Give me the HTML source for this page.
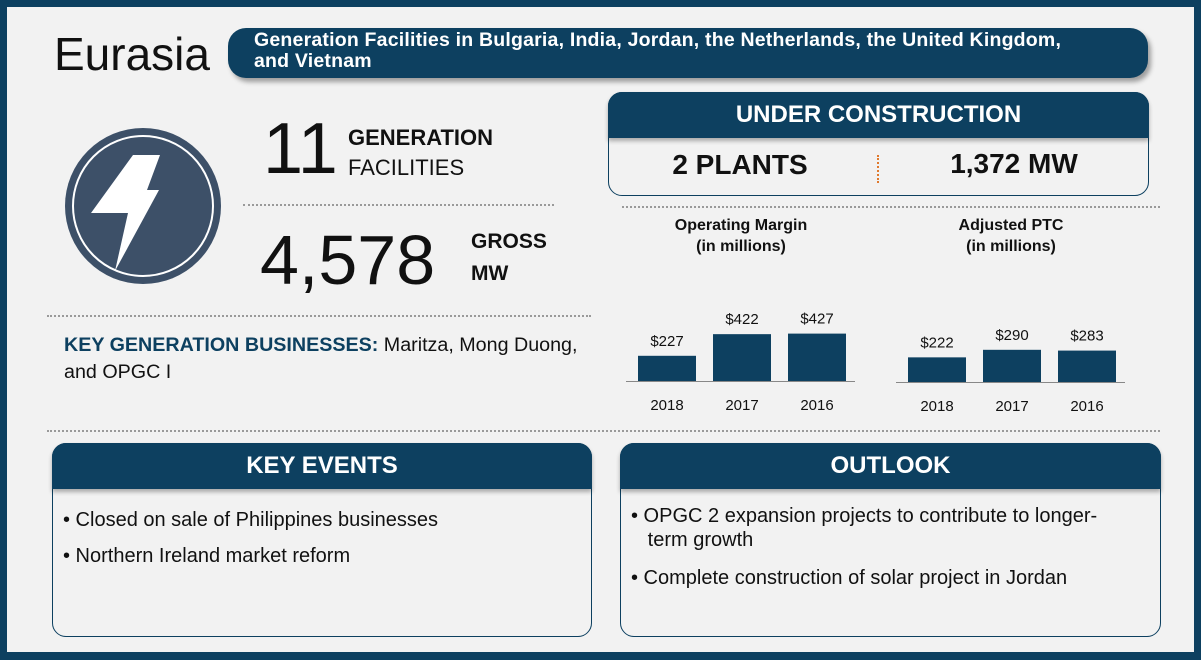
<!DOCTYPE html>
<html><head><meta charset="utf-8"><style>
*{margin:0;padding:0;box-sizing:border-box}
body{width:1201px;height:660px;overflow:hidden;background:#0d4060;font-family:"Liberation Sans",sans-serif;}
#page{position:absolute;left:7px;top:7px;width:1187px;height:645px;background:#f2f2f2}
.a{position:absolute;white-space:nowrap}
.dot{position:absolute;border-top:2px dotted #9a9a9a;height:0}
.dark{background:#0d4060;color:#fff}
.box{position:absolute;border:1px solid #0d4060;border-radius:14px;background:#f2f2f2}
.hdr{position:absolute;left:-1px;right:-1px;top:-1px;height:46px;border-radius:14px 14px 0 0;font-weight:bold;font-size:24px;text-align:center;line-height:46px;box-shadow:0 3px 4px rgba(0,0,0,.3)}
.bl{position:absolute;left:10px;font-size:20px;color:#111}
</style></head><body>
<div id="page"></div>
<div class="a" style="left:54px;top:27px;font-size:46px;color:#111">Eurasia</div>
<div class="a dark" style="left:228px;top:28px;width:920px;height:50px;border-radius:18px;box-shadow:3px 4px 5px rgba(0,0,0,.35);font-weight:bold;font-size:19.5px;line-height:21px;padding:2px 0 0 26px;white-space:normal;letter-spacing:0.2px">Generation Facilities in Bulgaria, India, Jordan, the Netherlands, the United Kingdom,<br>and Vietnam</div>
<svg class="a" style="left:64px;top:127px" width="158" height="158">
<circle cx="79" cy="79" r="78" fill="#3d5068"/><circle cx="79" cy="79" r="70" fill="none" stroke="#fff" stroke-width="2"/>
<polygon points="69,28 96,28 83,63 95,63 51,144 64,86 27,86" fill="#fff"/></svg>
<div class="a" style="left:263px;top:108px;font-size:72px;color:#111">11</div>
<div class="a" style="left:348px;top:125px;font-size:22px;font-weight:bold;color:#111">GENERATION</div>
<div class="a" style="left:348px;top:155px;font-size:22px;color:#111">FACILITIES</div>
<div class="dot" style="left:243px;top:204px;width:311px"></div>
<div class="a" style="left:260px;top:220px;font-size:70px;color:#111">4,578</div>
<div class="a" style="left:471px;top:230px;font-size:21px;font-weight:bold;color:#111">GROSS</div>
<div class="a" style="left:471px;top:262px;font-size:21px;font-weight:bold;color:#111">MW</div>
<div class="dot" style="left:47px;top:315px;width:544px"></div>
<div class="a" style="left:64px;top:332px;font-size:19.7px;line-height:27px;color:#111"><b style="color:#0d4060">KEY GENERATION BUSINESSES:</b> Maritza, Mong Duong,<br>and OPGC I</div>

<div class="box" style="left:608px;top:92px;width:541px;height:104px">
<div class="hdr dark">UNDER CONSTRUCTION</div>
<div class="a" style="left:0;width:262px;top:56px;text-align:center;font-size:28px;font-weight:bold;color:#111">2 PLANTS</div>
<div class="a" style="left:268px;top:62px;height:28px;border-left:2px dotted #e07a2e"></div>
<div class="a" style="left:270px;width:270px;top:55px;text-align:center;font-size:28px;font-weight:bold;color:#111">1,372 MW</div>
</div>
<div class="dot" style="left:622px;top:206px;width:538px"></div>

<svg class="a" id="charts" style="left:600px;top:210px" width="560" height="215"></svg>
<div class="dot" style="left:47px;top:430px;width:1113px"></div>

<div class="box" style="left:52px;top:443px;width:540px;height:194px">
<div class="hdr dark">KEY EVENTS</div>
<div class="bl" style="top:65px">• Closed on sale of Philippines businesses</div>
<div class="bl" style="top:101px">• Northern Ireland market reform</div>
</div>
<div class="box" style="left:620px;top:443px;width:541px;height:194px">
<div class="hdr dark">OUTLOOK</div>
<div class="bl" style="top:60px;white-space:normal;line-height:24px;width:530px">• OPGC 2 expansion projects to contribute to longer-<br>&nbsp;&nbsp;&nbsp;term growth</div>
<div class="bl" style="top:123px">• Complete construction of solar project in Jordan</div>
</div>
<script>
const years=["2018","2017","2016"];
const opMargin=[227,422,427];
const adjPtc=[222,290,283];
const labelsOp=["$227","$422","$427"];
const labelsPtc=["$222","$290","$283"];
const svg=document.getElementById('charts');
const NS="http://www.w3.org/2000/svg";
function mk(t,a){const e=document.createElementNS(NS,t);for(const k in a)e.setAttribute(k,a[k]);svg.appendChild(e);return e;}
function chart(x0,base,title,vals,labs,name){
  const y=v=>v*0.111;
  let t=mk('text',{x:x0+115,y:20,'text-anchor':'middle','font-size':16,'font-weight':'bold',fill:'#111'});t.textContent=title;
  
  
  t=mk('text',{x:x0+115,y:41,'text-anchor':'middle','font-size':16,'font-weight':'bold',fill:'#111'});t.textContent='(in millions)';
  vals.forEach((v,i)=>{
    const bx=x0+12+i*75,h=y(v);
    const r=mk('rect',{x:bx,y:base-h,width:58,height:h,fill:'#0d4060'});
    
    
    const l=mk('text',{x:bx+29,y:base-h-10,'text-anchor':'middle','font-size':15,fill:'#111'});l.textContent=labs[i];
    const yl=mk('text',{x:bx+29,y:base+29,'text-anchor':'middle','font-size':15,fill:'#111'});yl.textContent=years[i];
  });
  mk('line',{x1:x0,x2:x0+229,y1:base+0.5,y2:base+0.5,stroke:'#888','stroke-width':1});
}
chart(26,171,'Operating Margin',opMargin,labelsOp,'operating-margin');
chart(296,172,'Adjusted PTC',adjPtc,labelsPtc,'adjusted-ptc');
</script>
</body></html>
